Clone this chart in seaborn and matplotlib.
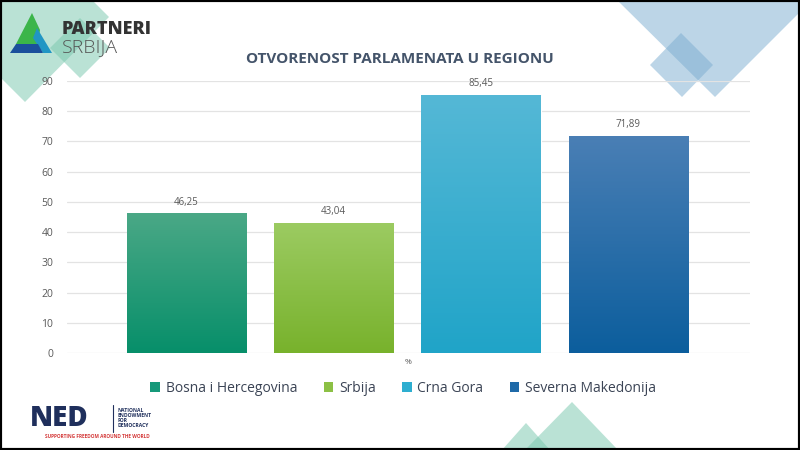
"""
Otvorenost parlamenata u regionu - bar chart recreation.
"""

import matplotlib
matplotlib.use('Agg')
import matplotlib.pyplot as plt
from matplotlib.patches import Polygon, Patch, Rectangle
from matplotlib.colors import to_rgb
import seaborn as sns
import pandas as pd
import numpy as np

# Data
countries = ['Bosna i Hercegovina', 'Srbija', 'Crna Gora', 'Severna Makedonija']
values = [46.25, 43.04, 85.45, 71.89]
y_ticks = [0, 10, 20, 30, 40, 50, 60, 70, 80, 90]

# Gradient colours per bar (top, bottom)
top_colors = ['#4aa886', '#9ccb62', '#55b8d6', '#4a7fb5']
bottom_colors = ['#078f6a', '#78b22c', '#20a4c8', '#0c5e9d']
mid_colors = ['#16997a', '#8cc045', '#2eaed0', '#1f6aa8']

title = 'OTVORENOST PARLAMENATA U REGIONU'
text_color = '#44546a'
tick_color = '#595959'

sns.set_theme(style='white')
plt.rcParams['font.family'] = ['Open Sans', 'DejaVu Sans']

fig = plt.figure(figsize=(8, 4.5), dpi=100)
fig.patch.set_facecolor('white')

# Background decoration layer in pixel coordinates
bg = fig.add_axes([0, 0, 1, 1], zorder=0)
bg.set_xlim(0, 800)
bg.set_ylim(450, 0)
bg.axis('off')

green = '#77c7ad'
blue = '#7badd0'
shapes = [
    ([(0, 0), (92, 0), (109, 17), (25, 102), (0, 77)], green),
    ([(80, 18), (110, 48), (80, 78), (50, 48)], green),
    ([(617, 0), (800, 0), (800, 12), (715, 97)], blue),
    ([(681, 33), (713, 65), (682, 97), (650, 65)], blue),
    ([(502, 450), (526, 423), (550, 450)], green),
    ([(525, 450), (572, 402), (618, 450)], green),
]
for pts, col in shapes:
    bg.add_patch(Polygon(pts, closed=True, facecolor=col, alpha=0.5, edgecolor='none'))

# Partneri Srbija logo
bg.add_patch(Polygon([(32, 13), (16, 44), (38, 44), (40, 30)], facecolor='#3bb54a', edgecolor='none'))
bg.add_patch(Polygon([(37, 28), (52, 53), (43, 53), (33, 38)], facecolor='#2196c4', edgecolor='none'))
bg.add_patch(Polygon([(16, 44), (38, 44), (43, 53), (10, 53)], facecolor='#1b4f9c', edgecolor='none'))
bg.text(62, 30, 'PARTNERI', fontsize=13, fontweight='heavy', color='#333333', va='center', ha='left')
bg.text(62, 47, 'SRBIJA', fontsize=14, fontweight='light', color='#555555', va='center', ha='left')

# NED logo
bg.text(30, 419, 'NED', fontsize=20, fontweight='heavy', color='#1f2f5c', va='center', ha='left')
bg.plot([113, 113], [405, 432], color='#1f2f5c', lw=0.8)
bg.text(118, 418, 'NATIONAL\nENDOWMENT\nFOR\nDEMOCRACY', fontsize=3.6, fontweight='bold',
        color='#1f2f5c', va='center', ha='left', linespacing=1.0)
bg.text(45, 437, 'SUPPORTING FREEDOM AROUND THE WORLD', fontsize=3.4, fontweight='bold',
        color='#d43a3a', va='center', ha='left')

# Frame
bg.add_patch(Rectangle((0, 0), 800, 450, fill=False, edgecolor='black', lw=3))

# Main chart
ax = fig.add_axes([67 / 800, 1 - 353 / 450, 683 / 800, 272 / 450], zorder=1)
ax.set_facecolor('none')

df = pd.DataFrame({'country': countries, 'value': values})
sns.barplot(data=df, x='country', y='value', hue='country', palette=mid_colors,
            width=0.81, legend=False, ax=ax, edgecolor='white', linewidth=0.8, zorder=2)

xlim = (-0.811, 3.826)
ylim = (0, 90)

# Vertical gradient fill per bar
bars = [c.patches[0] for c in ax.containers]
for bar, ctop, cbot in zip(bars, top_colors, bottom_colors):
    x0 = bar.get_x()
    w = bar.get_width()
    h = bar.get_height()
    t = np.linspace(0, 1, 128)[:, None]
    c0 = np.array(to_rgb(ctop))
    c1 = np.array(to_rgb(cbot))
    grad = (c0[None, :] * (1 - t) + c1[None, :] * t)[:, None, :]
    im = ax.imshow(grad, extent=[x0, x0 + w, 0, h], aspect='auto', origin='upper', zorder=2.1)
    im.set_clip_path(bar)

for cont in ax.containers:
    ax.bar_label(cont, labels=[f'{v:.2f}'.replace('.', ',') for v in cont.datavalues],
                 fontsize=7, color=tick_color, padding=4)

ax.set_xlim(*xlim)
ax.set_ylim(*ylim)
ax.set_yticks(y_ticks)
ax.yaxis.grid(True, color='#e3e3e3', linewidth=0.9)
ax.set_axisbelow(True)
for s in ax.spines.values():
    s.set_visible(False)
ax.tick_params(axis='y', length=0, labelsize=7.5, labelcolor=tick_color, pad=10)
ax.tick_params(axis='x', length=0, labelbottom=False)
ax.set_ylabel('')
ax.set_xlabel('%', fontsize=6, color=tick_color, labelpad=4)

fig.text(0.5, 1 - 59 / 450, title, ha='center', va='center', fontsize=11,
         fontweight='bold', color=text_color)

handles = [Patch(facecolor=c, edgecolor='none') for c in mid_colors]
fig.legend(handles, countries, loc='center', bbox_to_anchor=(0.504, 1 - 388 / 450),
           ncol=4, frameon=False, fontsize=10, handlelength=0.7, handleheight=0.7,
           handletextpad=0.4, columnspacing=1.9, labelcolor='#3b4455')

fig.savefig('out.png', dpi=100)
